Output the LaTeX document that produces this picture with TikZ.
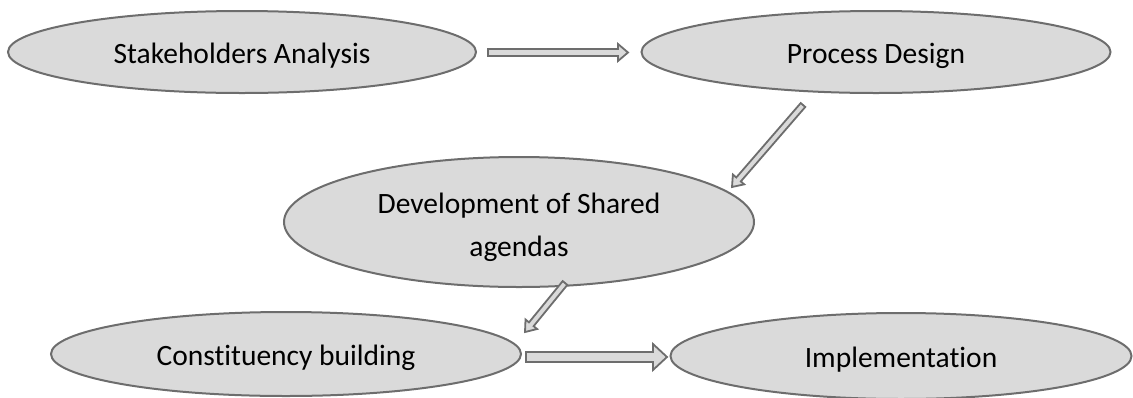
\documentclass[tikz,border=0pt]{standalone}
\usepackage{fontspec}
\setmainfont[Ligatures={NoCommon}]{Carlito}
\usetikzlibrary{shapes.geometric,calc}
\definecolor{edgec}{HTML}{6D6D6D}
\definecolor{fillc}{HTML}{DADADA}
\tikzset{
  oval/.style={ellipse, draw=edgec, fill=fillc, line width=2pt, inner sep=0pt,
    font=\fontsize{29.5}{43}\selectfont, align=center},
  oneline/.style={text height=30pt, text depth=8pt},
  blk/.style={draw=edgec, fill=fillc, line width=1.8pt, line join=miter},
}
\newcommand\blockarrow[5]{%
  \coordinate (bkn) at ($(#2)!#5!(#1)$);
  \draw[blk] ($(#1)!#3!90:(#2)$) -- ($(bkn)!#3!90:(#2)$) -- ($(bkn)!#4!90:(#2)$) -- (#2)
    -- ($(bkn)!#4!-90:(#2)$) -- ($(bkn)!#3!-90:(#2)$) -- ($(#1)!#3!-90:(#2)$) -- cycle;
}
\begin{document}
\begin{tikzpicture}[x=1pt,y=-1pt]
\useasboundingbox (0,0) rectangle (1133,397);
\node[oval, oneline, minimum width=468pt, minimum height=82pt] (s) at (242,52) {Stakeholders Analysis};
\node[oval, oneline, minimum width=469pt, minimum height=82pt] (p) at (876,52) {Process Design};
\node[oval, text height=77pt, text depth=8pt, minimum width=470pt, minimum height=130pt] (d) at (519,222) {Development of Shared\\agendas};
\node[oval, oneline, minimum width=470pt, minimum height=84pt] (c) at (286,354) {Constituency building};
\node[oval, oneline, minimum width=461pt, minimum height=86pt] (i) at (901,356) {Implementation};
% connector end points
\coordinate (a1s) at (488,52.5);
\coordinate (a1e) at (628,52.5);
\coordinate (a2s) at (803,105);
\coordinate (a2e) at (732,187);
\coordinate (a3s) at (565,283);
\coordinate (a3e) at (525,332);
\coordinate (a4s) at (526,357);
\coordinate (a4e) at (667,357);
\blockarrow{a1s}{a1e}{3.5pt}{8.5pt}{10pt}
\blockarrow{a2s}{a2e}{3pt}{7.5pt}{10pt}
\blockarrow{a3s}{a3e}{3pt}{7.5pt}{10pt}
\blockarrow{a4s}{a4e}{5pt}{13pt}{14pt}
\end{tikzpicture}
\end{document}
